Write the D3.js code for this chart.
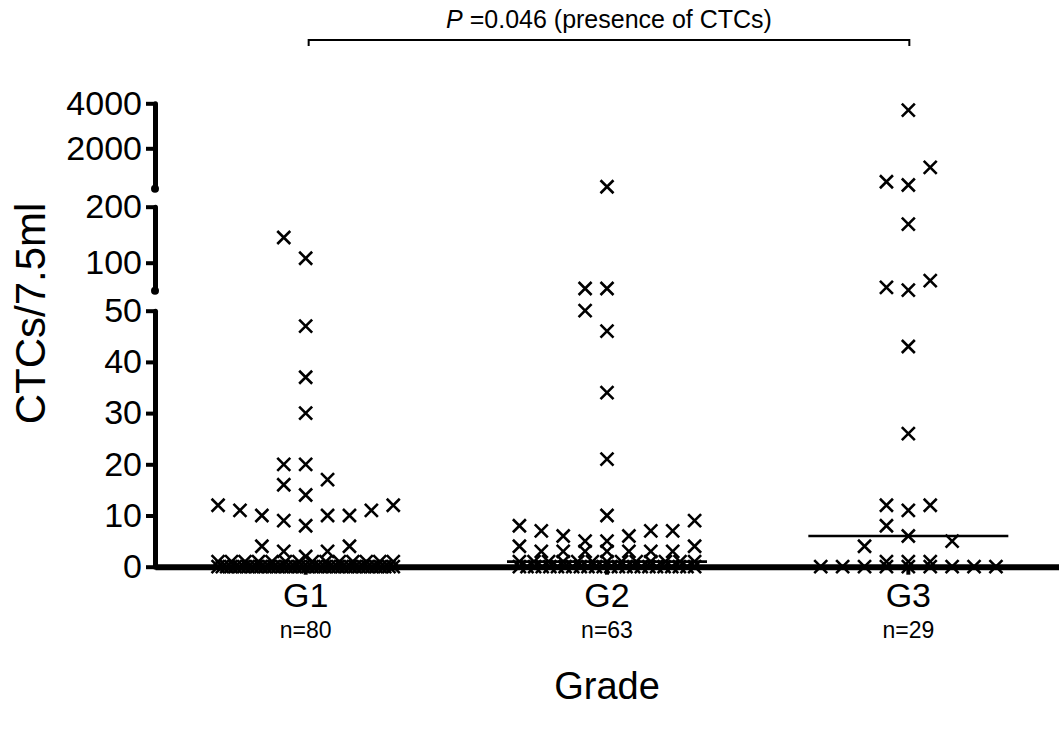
<!DOCTYPE html>
<html>
<head>
<meta charset="utf-8">
<script src="https://cdn.jsdelivr.net/npm/d3@7"></script>
<style>
  body { margin: 0; background: #fff; }
  svg { display: block; }
  text { font-family: Arial, "Liberation Sans", Helvetica, sans-serif; fill: #000; }
</style>
</head>
<body>
<svg id="chart" width="1059" height="733"></svg>
<script>
// ---------------- data ----------------
const categories = ["G1", "G2", "G3"];
const g1Values = [
  0,0,0,0,0,0,0,0,0,0, 0,0,0,0,0,0,0,0,0,0, 0,0,0,0,0,0,0,0,0,0, 0,0,0,0,0,0,0,0,0,0, 0,0,
  1,1,1,1,1,1,1,1,1,1,1,1,1,1,
  2,3,3,4,4,
  8,9,10,10,10,11,11,12,12,
  14,16,17,20,20,30,37,47,108,145
];
const g2Values = [
  0,0,0,0,0,0,0,0,0,0, 0,0,0,0,0,0,0,0,0,0, 0,0,0,0,
  1,1,1,1,1,1,1,1,1,1,1,1,1,
  3,3,3,3,3,3,3,4,4,
  5,5,6,6,7,7,7,8,9,
  10,21,34,46,50,54,54,290
];
const g3Values = [
  0,0,0,0,0,0,0,0,0,
  1,1,1,
  4,5,6,8,11,12,12,26,43,51,56,68,169,370,515,1155,3700
];
const yTicks = [0, 10, 20, 30, 40, 50, 100, 200, 2000, 4000];
const axisSegments = [[0, 50], [50, 200], [200, 4000]];
const pLetter = "P";
const pText = " =0.046 (presence of CTCs)";
const yLabel = "CTCs/7.5ml";
const xLabel = "Grade";

const groups = [g1Values, g2Values, g3Values];

// ---------------- layout ----------------
const axisX = 155;
const plotRight = 1059;
const segRanges = [[566.7, 310.7], [290.7, 206.7], [188.8, 103.3]];
const slot = 21.9;
const maxPerRow = 9;
const rowH = 22;

const svg = d3.select("#chart");

const x = d3.scaleBand().domain(categories).range([axisX, plotRight]).padding(0);
const cx = c => x(c) + x.bandwidth() / 2;

const segScales = axisSegments.map((d, i) => d3.scaleLinear().domain(d).range(segRanges[i]));
function segIndex(v) {
  for (let i = 0; i < axisSegments.length; i++) if (v <= axisSegments[i][1]) return i;
  return axisSegments.length - 1;
}
const y = v => segScales[segIndex(v)](v);

// ---------------- y axis (broken) ----------------
segScales.forEach((s, i) => {
  const ticks = yTicks.filter(t => segIndex(t) === i && t >= axisSegments[i][0]);
  const g = svg.append("g")
    .attr("transform", `translate(${axisX},0)`)
    .call(d3.axisLeft(s).tickValues(ticks).tickSize(9).tickSizeOuter(0).tickPadding(4).tickFormat(d3.format("d")));
  g.select(".domain").attr("stroke", "#000").attr("stroke-width", 5).attr("stroke-linecap", "round");
  g.selectAll(".tick line").attr("stroke", "#000").attr("stroke-width", 4);
  g.selectAll(".tick text").attr("font-size", 34).attr("font-family", "Arial, 'Liberation Sans', sans-serif").attr("fill", "#000");
  if (i > 0) {
    g.append("circle").attr("cx", 0).attr("cy", s.range()[0]).attr("r", 4).attr("fill", "#000");
  }
});

// ---------------- x axis ----------------
const xg = svg.append("g")
  .attr("transform", `translate(0,${y(0)})`)
  .call(d3.axisBottom(x).tickSize(8).tickSizeOuter(0).tickPadding(8));
xg.select(".domain").attr("stroke", "#000").attr("stroke-width", 6);
xg.selectAll(".tick line").attr("stroke", "#000").attr("stroke-width", 4);
xg.selectAll(".tick text").attr("font-size", 34).attr("font-family", "Arial, 'Liberation Sans', sans-serif").attr("fill", "#000");

// ---------------- scatter layout ----------------
function layout(values) {
  const counts = d3.rollup(values, v => v.length, d => d);
  const R = 4 * slot;
  const pts = [];
  for (const [v, c] of counts) {
    if (c > maxPerRow) {
      for (let k = 0; k < c; k++) pts.push({ v, dx: c === 1 ? 0 : -R + 2 * R * k / (c - 1) });
    }
  }
  const rest = values.filter(v => counts.get(v) <= maxPerRow).sort((a, b) => a - b);
  let i = 0;
  while (i < rest.length) {
    const row = [rest[i]];
    const y0 = y(rest[i]);
    let j = i + 1;
    while (j < rest.length && row.length < maxPerRow && (y0 - y(rest[j])) < rowH) { row.push(rest[j]); j++; }
    row.forEach((v, k) => {
      const s = k === 0 ? 0 : (k % 2 === 1 ? -Math.ceil(k / 2) : k / 2);
      pts.push({ v, dx: s * slot });
    });
    i = j;
  }
  return pts;
}

const crossType = {
  draw(context, size) {
    const r = Math.sqrt(size) / 2;
    context.moveTo(-r, -r); context.lineTo(r, r);
    context.moveTo(-r, r); context.lineTo(r, -r);
  }
};
const crossPath = d3.symbol(crossType, 169)();

groups.forEach((vals, gi) => {
  const c = categories[gi];
  const pts = layout(vals);
  svg.append("g").selectAll("path")
    .data(pts).join("path")
    .attr("d", crossPath)
    .attr("transform", d => `translate(${cx(c) + d.dx},${y(d.v)})`)
    .attr("fill", "none")
    .attr("stroke", "#000")
    .attr("stroke-width", 2.6);
  // median
  const med = d3.median(vals);
  svg.append("line")
    .attr("x1", cx(c) - 100).attr("x2", cx(c) + 100)
    .attr("y1", y(med)).attr("y2", y(med))
    .attr("stroke", "#000").attr("stroke-width", 2.6);
  // n label
  svg.append("text")
    .attr("x", cx(c)).attr("y", 638)
    .attr("text-anchor", "middle").attr("font-size", 23)
    .text(`n=${vals.length}`);
});

// ---------------- labels ----------------
svg.append("text")
  .attr("transform", `translate(45,${313.5}) rotate(-90)`)
  .attr("text-anchor", "middle").attr("font-size", 42)
  .text(yLabel);

svg.append("text")
  .attr("x", (axisX + plotRight) / 2).attr("y", 699)
  .attr("text-anchor", "middle").attr("font-size", 38)
  .text(xLabel);

// significance bracket
const bx1 = cx(categories[0]), bx2 = cx(categories[2]);
const by = 40;
svg.append("path")
  .attr("d", `M${bx1 + 3},${by + 6}V${by}H${bx2 + 1}V${by + 6}`)
  .attr("fill", "none").attr("stroke", "#000").attr("stroke-width", 2);
const title = svg.append("text")
  .attr("x", (bx1 + bx2) / 2 + 2).attr("y", 28)
  .attr("text-anchor", "middle").attr("font-size", 25);
title.append("tspan").attr("font-style", "italic").text(pLetter);
title.append("tspan").text(pText);
</script>
</body>
</html>
